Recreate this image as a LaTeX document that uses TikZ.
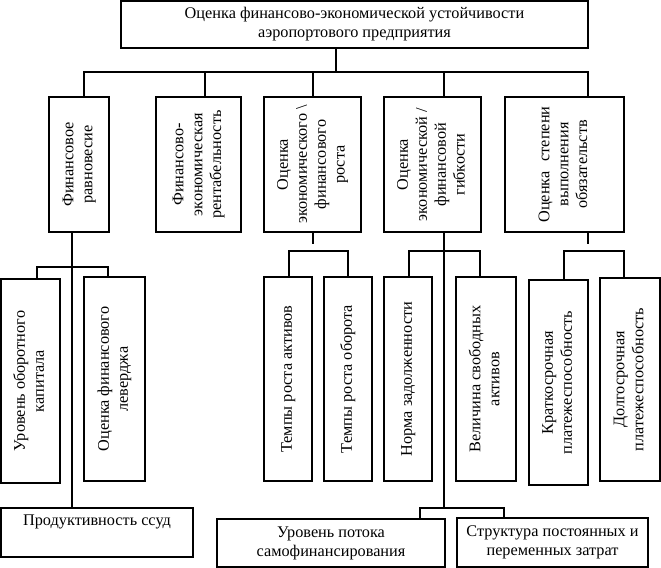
\documentclass[tikz,border=0pt]{standalone}
\usepackage{fontspec}
\setmainfont{Liberation Serif}
\usepackage{graphicx}
\newcommand{\vtext}[1]{\rotatebox{90}{\begin{tabular}{@{}c@{}}#1\end{tabular}}}
\begin{document}
\begin{tikzpicture}[x=0.75pt,y=-0.75pt,
  bx/.style 2 args={draw, line width=1.1pt, inner sep=0pt, minimum width=#1*0.75pt, minimum height=#2*0.75pt, align=center, font=\fontsize{12.2pt}{14.2pt}\selectfont},
  ln/.style={line width=0.9pt}]
\useasboundingbox (0,0) rectangle (661,568);
% top
\node[bx={467}{47}] (top) at (354.5,24.5) {Оценка финансово-экономической устойчивости\\аэропортового предприятия};
% level 1
\node[bx={60}{135}] (b1) at (79,164.5) {\vtext{Финансовое\\равновесие}};
\node[bx={85}{135}] (b2) at (198.5,164.5) {\vtext{Финансово-\\экономическая\\рентабельность}};
\node[bx={97}{135}] (b3) at (312.5,164.5) {\vtext{Оценка\\экономического \textbackslash\\финансового\\роста}};
\node[bx={97}{135}] (b4) at (432.5,164.5) {\vtext{Оценка\\экономической /\\финансовой\\гибкости}};
\node[bx={119}{135}] (b5) at (564.5,164.5) {\vtext{Оценка\hspace{0.6em}степени\\выполнения\\обязательств}};
% level 2
\node[bx={59}{204}] (s1) at (30.5,381) {\vtext{Уровень оборотного\\капитала}};
\node[bx={61}{204}] (s2) at (114.5,379) {\vtext{Оценка финансового\\леверджа}};
\node[bx={48}{204}] (s3) at (288,379) {\vtext{Темпы роста активов}};
\node[bx={48}{204}] (s4) at (348,379) {\vtext{Темпы роста оборота}};
\node[bx={48}{204}] (s5) at (408,379) {\vtext{Норма задолженности}};
\node[bx={60}{204}] (s6) at (486,379) {\vtext{Величина свободных\\активов}};
\node[bx={59}{205}] (s7) at (558.5,382.5) {\vtext{Краткосрочная\\платежеспособность}};
\node[bx={60}{203}] (s8) at (630,379.5) {\vtext{Долгосрочная\\платежеспособность}};
% bottom
\node[bx={192}{49}] (p1) at (97,532.5) {Продуктивность ссуд\\\strut};
\node[bx={228}{48}] (p2) at (331,543) {Уровень потока\\самофинансирования};
\node[bx={191}{49}] (p3) at (552.5,542.5) {Структура постоянных и\\переменных затрат};
% connectors level 0-1
\draw[ln] (top.south -| 336,0) -- (336,72);
\draw[ln] (b1.north -| 84,0) -- (84,72) -- (588,72) -- (b5.north -| 588,0);
\draw[ln] (b2.north -| 205,0) -- (205,72);
\draw[ln] (b3.north -| 313,0) -- (313,72);
\draw[ln] (b4.north -| 444,0) -- (444,72);
% branch 1
\draw[ln] (b1.south -| 72,0) -- (p1.north -| 72,0);
\draw[ln] (s1.north -| 37,0) -- (37,267) -- (108,267) -- (s2.north -| 108,0);
% branch 3
\draw[ln] (b3.south -| 313,0) -- (313,244);
\draw[ln] (s3.north -| 289,0) -- (289,251) -- (348,251) -- (s4.north -| 348,0);
% branch 4
\draw[ln] (b4.south -| 444,0) -- (444,508);
\draw[ln] (s5.north -| 409,0) -- (409,251) -- (480,251) -- (s6.north -| 480,0);
\draw[ln] (p2.north -| 420,0) -- (420,508) -- (504,508) -- (p3.north -| 504,0);
% branch 5
\draw[ln] (b5.south -| 588,0) -- (588,244);
\draw[ln] (s7.north -| 564,0) -- (564,251) -- (624,251) -- (s8.north -| 624,0);
\end{tikzpicture}
\end{document}
